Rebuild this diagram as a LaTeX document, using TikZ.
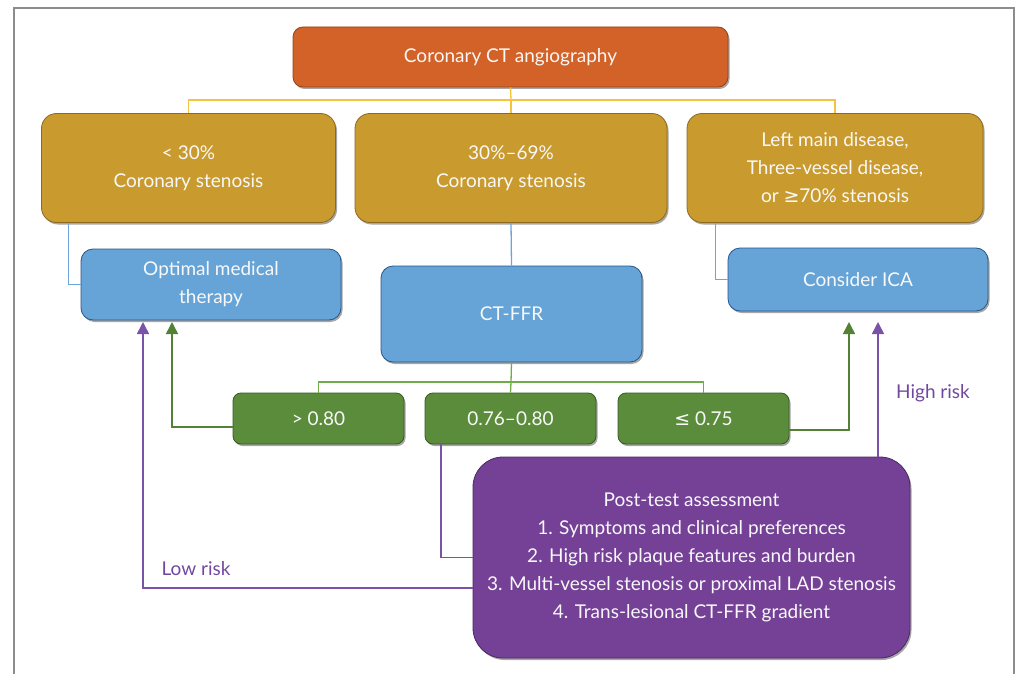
\documentclass[tikz,border=0pt]{standalone}
\usepackage{fontspec}
\setmainfont{Lato}
\usetikzlibrary{arrows.meta,shadows}
\definecolor{orangeF}{RGB}{210,98,39}
\definecolor{orangeD}{RGB}{150,65,25}
\definecolor{goldF}{RGB}{201,154,46}
\definecolor{goldD}{RGB}{140,105,30}
\definecolor{blueF}{RGB}{102,164,216}
\definecolor{blueD}{RGB}{40,85,135}
\definecolor{greenF}{RGB}{91,140,60}
\definecolor{greenD}{RGB}{55,90,35}
\definecolor{purpF}{RGB}{116,65,150}
\definecolor{purpD}{RGB}{75,40,100}
\definecolor{yline}{RGB}{246,196,60}
\definecolor{bline}{RGB}{110,165,220}
\definecolor{gline}{RGB}{112,173,71}
\definecolor{garr}{RGB}{84,130,53}
\definecolor{parr}{RGB}{122,82,168}
\definecolor{ptext}{RGB}{112,72,160}
\definecolor{framec}{RGB}{140,140,140}
\definecolor{boxtext}{RGB}{248,248,248}
\tikzset{
  box/.style={draw, line width=0.8pt, text=boxtext, align=center,
    font=\fontsize{19}{28}\selectfont, inner sep=0pt,
    drop shadow={shadow xshift=1.5pt, shadow yshift=-2pt, opacity=0.35, fill=black}},
  obox/.style={box, fill=orangeF, draw=orangeD, rounded corners=10pt, minimum width=435pt, minimum height=60pt},
  ybox/.style={box, fill=goldF, draw=goldD, rounded corners=15pt, minimum height=109pt},
  bbox/.style={box, fill=blueF, draw=blueD, rounded corners=12pt, minimum width=260pt},
  gbox/.style={box, fill=greenF, draw=greenD, rounded corners=8pt, minimum width=171pt, minimum height=51pt},
  pbox/.style={box, fill=purpF, draw=purpD, rounded corners=30pt, minimum width=437pt, minimum height=201pt},
  yl/.style={draw=yline, line width=1.3pt},
  bl/.style={draw=bline, line width=1.3pt},
  gl/.style={draw=gline, line width=1.3pt},
  ga/.style={draw=garr, line width=1.5pt, -{Triangle[width=12pt,length=12pt]}},
  pl/.style={draw=parr, line width=1.5pt},
  pa/.style={draw=parr, line width=1.5pt, -{Triangle[width=12pt,length=12pt]}},
  lbl/.style={text=ptext, font=\fontsize{19}{28}\selectfont}
}
\begin{document}
\begin{tikzpicture}[x=1pt,y=-1pt]
\useasboundingbox (0,0) rectangle (1022,674);
\draw[framec, line width=1.5pt] (14,674) -- (14,8) -- (1014,8) -- (1014,674);

% nodes
\node[obox] (top) at (510.5,57) {Coronary CT angiography};
\node[ybox, minimum width=294pt] (ylL) at (188.5,168) {< 30\%\\Coronary stenosis};
\node[ybox, minimum width=312pt] (ylM) at (511,168) {30\%–69\%\\Coronary stenosis};
\node[ybox, minimum width=296pt] (ylR) at (835,168) {Left main disease,\\Three-vessel disease,\\or {\fontspec{DejaVu Sans}≥}70\% stenosis};
\node[bbox, minimum height=71pt] (opt) at (211,284.5) {Optimal medical\\therapy};
\node[bbox, minimum height=96pt, minimum width=261pt] (ctffr) at (511.5,314) {CT-FFR};
\node[bbox, minimum height=63pt] (ica) at (858,279.5) {Consider ICA};
\node[gbox] (gL) at (318.5,418.5) {> 0.80};
\node[gbox] (gM) at (510.5,418.5) {0.76–0.80};
\node[gbox] (gR) at (703.5,418.5) {{\fontspec{DejaVu Sans}≤} 0.75};
\node[pbox] (pur) at (691.5,557.5) {Post-test assessment\\1. Symptoms and clinical preferences\\2. High risk plaque features and burden\\3. Multi-vessel stenosis or proximal LAD stenosis\\4. Trans-lesional CT-FFR gradient};

% labels
\node[lbl] (low) at (196,569) {Low risk};
\node[lbl] (high) at (933,393) {High risk};

% helper coordinates
\coordinate (yj) at (511,100);
\coordinate (gj) at (511,382);
\coordinate (gLc) at (172,427);
\coordinate (gLt) at (172,322);
\coordinate (gRc) at (849,430);
\coordinate (gRt) at (849,322);
\coordinate (lrc) at (143,588);
\coordinate (lrt) at (143,322);
\coordinate (hrt) at (878,322);
\coordinate (pmc) at (441,557.5);

% yellow tree
\draw[yl] (top.south) -- (yj);
\draw[yl] (yj) -| (ylL.north);
\draw[yl] (yj) -| (ylR.north);
\draw[yl] (yj) -- (ylM.north);

% blue links
\draw[bl] ([xshift=27.5pt]ylL.south west) |- (opt.west);
\draw[bl] ([xshift=29pt]ylR.south west) |- (ica.west);
\draw[bl] (ylM.south) -- (ctffr.north);

% green tree
\draw[gl] (ctffr.south) -- (gj);
\draw[gl] (gj) -| (gL.north);
\draw[gl] (gj) -| (gR.north);
\draw[gl] (gj) -- (gM.north);

% green arrows
\draw[ga] (gL.west |- gLc) -- (gLc) -- (gLt);
\draw[ga] (gR.east |- gRc) -- (gRc) -- (gRt);

% purple
\draw[pl] (gM.south -| pmc) -- (pmc) -- (pur.west);
\draw[pa] (pur.west |- lrc) -- (lrc) -- (lrt);
\draw[pa] (pur.north -| hrt) -- (hrt);
\end{tikzpicture}
\end{document}
